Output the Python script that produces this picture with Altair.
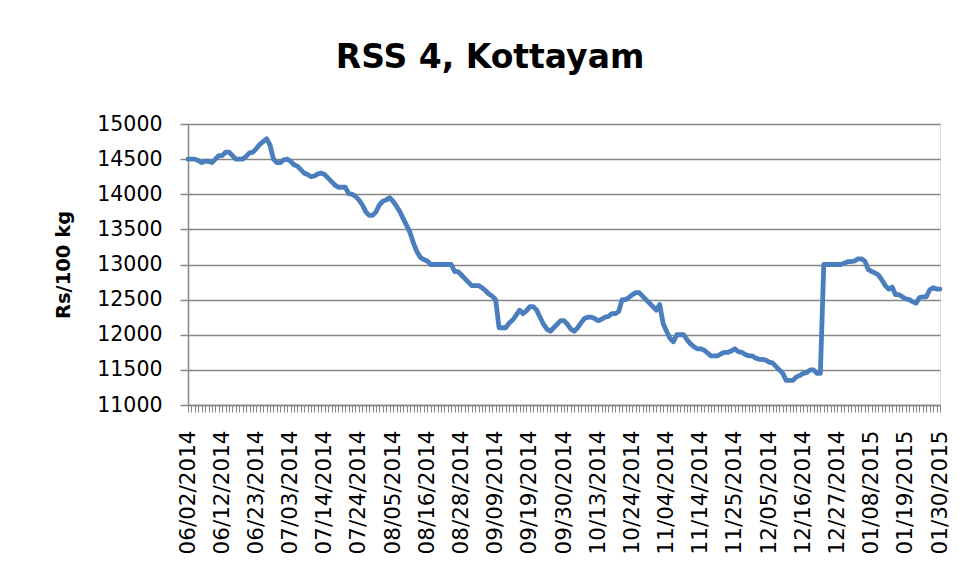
import json
import altair as alt
import pandas as pd

# RSS 4 price at Kottayam, one value per trading day (Rs/100 kg)
prices = [
    14500, 14500, 14500, 14480, 14450, 14470, 14470, 14450, 14500, 14550,
    14550, 14600, 14600, 14550, 14500, 14500, 14500, 14540, 14590, 14600,
    14650, 14710, 14750, 14790, 14700, 14500, 14450, 14450, 14490, 14500,
    14470, 14420, 14400, 14350, 14300, 14280, 14250, 14260, 14290, 14300,
    14280, 14230, 14180, 14130, 14100, 14100, 14100, 14010, 14000, 13970,
    13920, 13850, 13750, 13700, 13700, 13750, 13850, 13900, 13920, 13950,
    13900, 13830, 13750, 13650, 13550, 13450, 13300, 13180, 13100, 13070,
    13050, 13000, 13000, 13000, 13000, 13000, 13000, 13000, 12900, 12900,
    12850, 12800, 12750, 12700, 12700, 12700, 12670, 12630, 12580, 12550,
    12500, 12100, 12100, 12100, 12170, 12210, 12280, 12350, 12300, 12340,
    12400, 12400, 12350, 12250, 12150, 12080, 12050, 12100, 12150, 12200,
    12200, 12150, 12080, 12050, 12100, 12170, 12230, 12250, 12250, 12230,
    12200, 12220, 12250, 12260, 12300, 12300, 12330, 12500, 12500, 12530,
    12570, 12600, 12600, 12550, 12500, 12450, 12400, 12350, 12430, 12160,
    12050, 11950, 11900, 12000, 12000, 12000, 11930, 11870, 11830, 11800,
    11800, 11780, 11740, 11700, 11700, 11700, 11730, 11750, 11750, 11770,
    11800, 11760, 11750, 11720, 11700, 11700, 11670, 11650, 11650, 11640,
    11610, 11600, 11550, 11500, 11450, 11350, 11350, 11350, 11400, 11420,
    11450, 11460, 11500, 11500, 11450, 11450, 13000, 13000, 13000, 13000,
    13000, 13000, 13020, 13040, 13040, 13050, 13080, 13080, 13050, 12930,
    12900, 12880, 12850, 12780, 12700, 12650, 12680, 12570, 12570, 12540,
    12510, 12500, 12470, 12450, 12530, 12540, 12540, 12640, 12670, 12650,
    12650,
]

# Category labels shown every 10th trading day
date_labels = [
    "06/02/2014", "06/12/2014", "06/23/2014", "07/03/2014", "07/14/2014",
    "07/24/2014", "08/05/2014", "08/16/2014", "08/28/2014", "09/09/2014",
    "09/19/2014", "09/30/2014", "10/13/2014", "10/24/2014", "11/04/2014",
    "11/14/2014", "11/25/2014", "12/05/2014", "12/16/2014", "12/27/2014",
    "01/08/2015", "01/19/2015", "01/30/2015",
]
label_step = 10

y_ticks = list(range(11000, 15001, 500))

n = len(prices)
df = pd.DataFrame({"idx": list(range(n)), "price": prices})

label_expr = (
    f"datum.value % {label_step} === 0 ? "
    f"{json.dumps(date_labels)}[datum.value / {label_step}] : ''"
)

FONT = "DejaVu Sans"
GRAY = "#868686"

chart = (
    alt.Chart(df)
    .mark_line(color="#4A7EBD", strokeWidth=4.8, strokeCap="round", strokeJoin="round")
    .encode(
        x=alt.X(
            "idx:Q",
            scale=alt.Scale(domain=[0, n - 1], nice=False, zero=False),
            axis=alt.Axis(
                values=list(range(n)),
                labelExpr=label_expr,
                labelAngle=270,
                labelFontSize=21.5,
                labelFont=FONT,
                labelColor="#000000",
                labelPadding=18,
                labelOverlap=False,
                labelFlush=False,
                tickSize=7,
                tickColor=GRAY,
                tickWidth=1,
                domainColor=GRAY,
                domainWidth=1.5,
                grid=False,
                title=None,
            ),
        ),
        y=alt.Y(
            "price:Q",
            scale=alt.Scale(domain=[11000, 15000], nice=False, zero=False),
            axis=alt.Axis(
                values=y_ticks,
                format="d",
                grid=True,
                gridColor=GRAY,
                gridWidth=1.5,
                tickSize=8,
                tickColor=GRAY,
                tickWidth=1.5,
                domainColor=GRAY,
                domainWidth=1.5,
                labelFontSize=20.5,
                labelFont=FONT,
                labelColor="#000000",
                labelPadding=18,
                title="Rs/100 kg",
                titleFont=FONT,
                titleFontSize=19.5,
                titleFontWeight="bold",
                titleColor="#000000",
                titlePadding=23,
            ),
        ),
    )
    .properties(
        width=752,
        height=281,
        autosize=alt.AutoSizeParams(type="none"),
        padding={"left": 180, "top": 116, "right": 11, "bottom": 160},
        title=alt.TitleParams(
            "RSS 4, Kottayam",
            font=FONT,
            fontSize=33,
            fontWeight="bold",
            color="#000000",
            anchor="middle",
            dx=-74,
            offset=39,
        ),
    )
    .configure_view(stroke=None)
    .configure(background="white")
)

chart.save("out.html", embed_options={"renderer": "svg", "actions": False})
